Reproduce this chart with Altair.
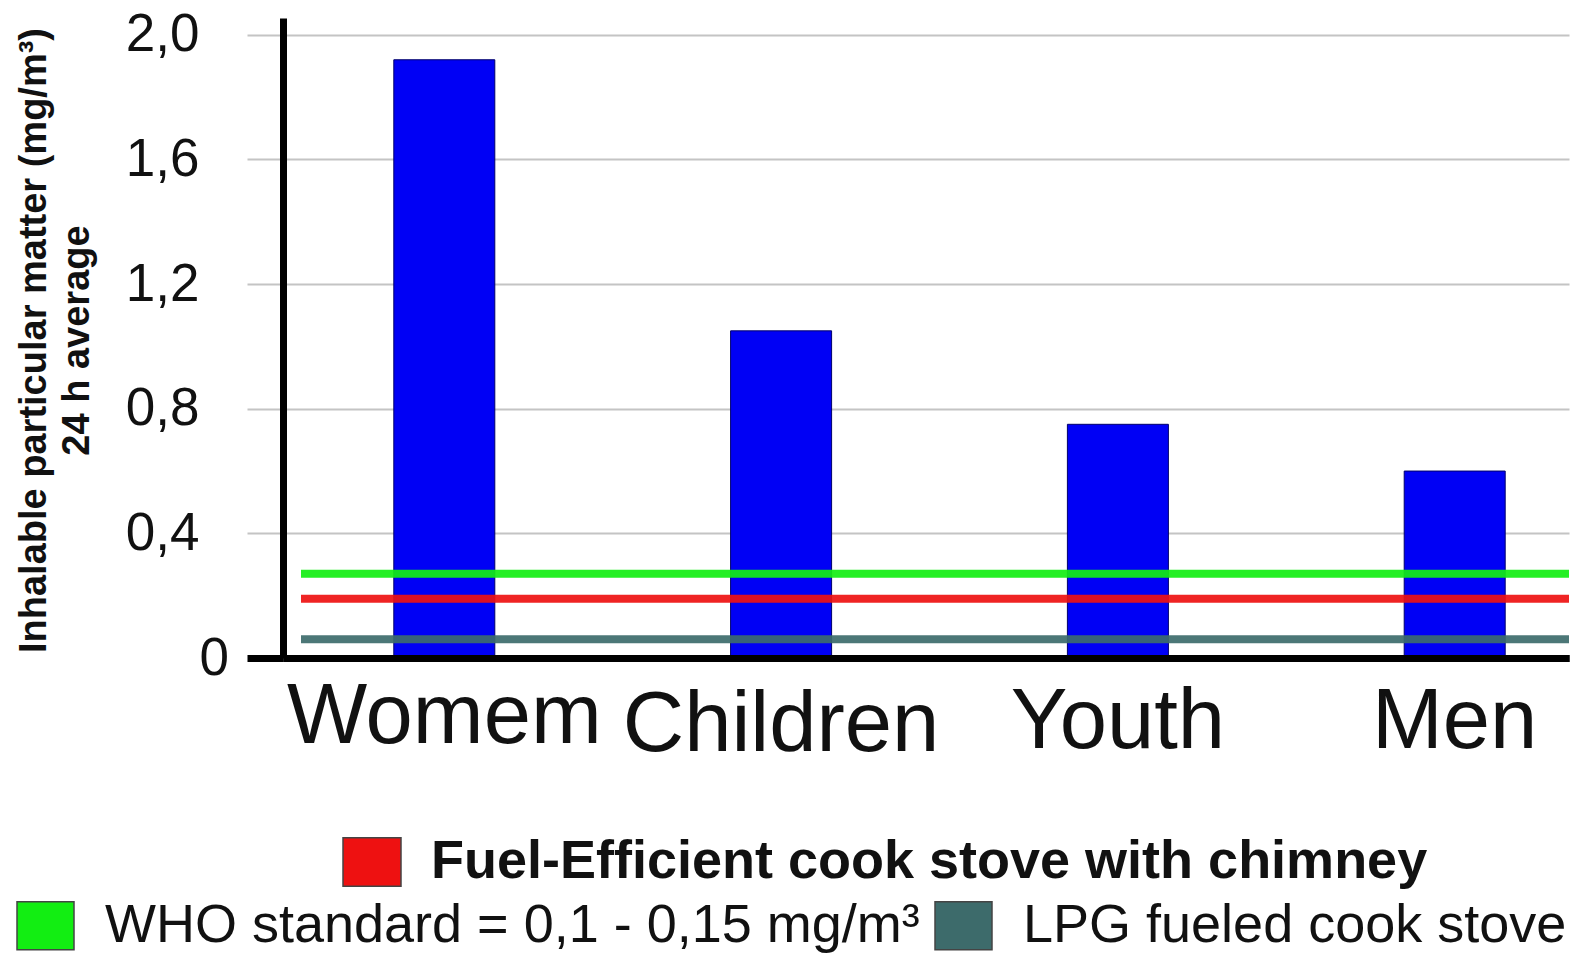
import altair as alt
import pandas as pd

# ---- data ----
groups = ["Womem", "Children", "Youth", "Men"]
exposure = [1.92, 1.05, 0.75, 0.60]

stove_series = ["Fuel-Efficient cook stove with chimney"]
stove_values = [0.19]

ref_series = ["WHO standard = 0,1 - 0,15 mg/m³", "LPG fueled cook stove"]
ref_values = [0.27, 0.06]

y_ticks = [0, 0.4, 0.8, 1.2, 1.6, 2.0]
y_max = 2.054

bar_df = pd.DataFrame({"group": groups, "value": exposure})
stove_df = pd.DataFrame({"series": stove_series, "value": stove_values})
ref_df = pd.DataFrame({"series": ref_series, "value": ref_values})

FONT = "Liberation Sans"
GRID = "#c4c4c4"
ZERO = "datum.value === 0"
RECT = "M-1,-0.84L1,-0.84L1,0.84L-1,0.84Z"

yaxis = alt.Axis(
    values=y_ticks,
    labelExpr="datum.value == 0 ? '0' : replace(format(datum.value, '.1f'), '.', ',')",
    labelFont=FONT, labelFontSize=53, labelColor="#111111", labelPadding=48,
    labelAlign={"condition": {"test": ZERO, "value": "left"}, "value": "right"},
    tickSize=36,
    tickColor={"condition": {"test": ZERO, "value": "#000000"}, "value": GRID},
    tickWidth={"condition": {"test": ZERO, "value": 7}, "value": 2},
    gridColor={"condition": {"test": ZERO, "value": "#000000"}, "value": GRID},
    gridWidth={"condition": {"test": ZERO, "value": 7}, "value": 2},
    domainColor="#000000", domainWidth=7,
    title=["Inhalable particular matter (mg/m³)", "24 h average"],
    titleFont=FONT, titleFontSize=38, titleFontWeight="bold", titleColor="#111111",
    titleLineHeight=43, titleX=-249, titleY=322, titleBaseline="middle", titleAlign="center",
)
yscale = alt.Scale(domain=[0, y_max], nice=False, zero=True)
yenc = alt.Y("value:Q", scale=yscale, axis=yaxis)

xaxis = alt.Axis(
    title=None, labelAngle=0, labelFont=FONT, labelFontSize=85, labelColor="#111111",
    labelPadding={"condition": [
        {"test": "datum.value === 'Womem'", "value": 17},
        {"test": "datum.value === 'Children'", "value": 25},
    ], "value": 22},
    labelLimit=2000, labelOverlap=False, ticks=False,
    domainColor="#000000", domainWidth=7, zindex=1,
)

bars = alt.Chart(bar_df).mark_bar(color="#0000F5", stroke="#00006A", strokeWidth=1).encode(
    x=alt.X("group:N", sort=groups, axis=xaxis,
            scale=alt.Scale(paddingInner=0.7001, paddingOuter=0.2592, align=0.6346)),
    y=yenc,
)

LINE_LEN = 1268
LINE_CENTER = 652

ref_lines = alt.Chart(ref_df).mark_tick(thickness=8, size=LINE_LEN, opacity=0.92).encode(
    x=alt.value(LINE_CENTER),
    y=yenc,
    color=alt.Color(
        "series:N",
        scale=alt.Scale(domain=ref_series, range=["#12EE12", "#3D6B6B"]),
        legend=alt.Legend(
            title=None, orient="none", legendX=-267, legendY=878,
            direction="horizontal", columns=2, columnPadding=12, padding=0,
            symbolType=RECT, symbolSize=3249, symbolStrokeColor="#444444",
            symbolStrokeWidth=1.5, symbolOpacity=1,
            labelFont=FONT, labelFontSize=54, labelColor="#111111",
            labelOffset=30, labelLimit=2000,
        ),
    ),
)

stove_lines = alt.Chart(stove_df).mark_tick(thickness=8, size=LINE_LEN, opacity=0.92).encode(
    x=alt.value(LINE_CENTER),
    y=yenc,
    color=alt.Color(
        "series:N",
        scale=alt.Scale(domain=stove_series, range=["#EE1111"]),
        legend=alt.Legend(
            title=None, orient="none", legendX=59, legendY=814, padding=0,
            symbolType=RECT, symbolSize=3364, symbolStrokeColor="#444444",
            symbolStrokeWidth=1.5, symbolOpacity=1,
            labelFont=FONT, labelFontSize=54, labelFontWeight="bold", labelColor="#111111",
            labelOffset=29, labelLimit=2000,
        ),
    ),
)

chart = (
    alt.layer(bars, ref_lines, stove_lines)
    .resolve_scale(color="independent")
    .properties(
        width=1286, height=640,
        autosize=alt.AutoSizeParams(type="none"),
        padding={"left": 275, "top": 10, "right": 4, "bottom": 298},
        background="white",
    )
    .configure(font=FONT)
    .configure_view(stroke=None)
)

chart.save("out.html", embed_options={"renderer": "svg", "actions": False})
